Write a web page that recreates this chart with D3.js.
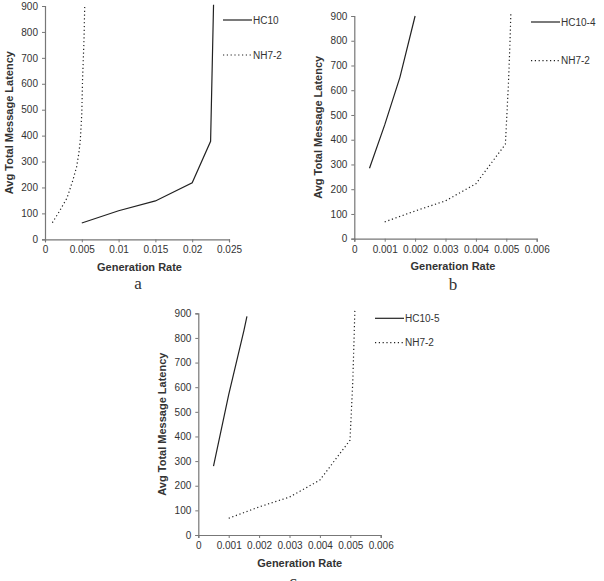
<!DOCTYPE html>
<html>
<head>
<meta charset="UTF-8" />
<style>
  body { margin: 0; background: #fff; }
  svg text { font-family: "Liberation Sans", Arial, sans-serif; fill: #333; }
</style>
</head>
<body>
<script src="https://cdn.jsdelivr.net/npm/d3@7"></script>
<div id="app"></div>
<script>
// data
const yTicks = [0, 100, 200, 300, 400, 500, 600, 700, 800, 900];
const xTicksA = [0, 0.005, 0.01, 0.015, 0.02, 0.025];
const xTicksBC = [0, 0.001, 0.002, 0.003, 0.004, 0.005, 0.006];

const hc10 = [[0.005, 63], [0.01, 110], [0.015, 148], [0.02, 218], [0.0225, 378], [0.0229, 905]];
const nh72A = [[0.001, 64], [0.002, 110], [0.003, 160], [0.0038, 229], [0.0043, 280], [0.0046, 332],
  [0.0048, 383], [0.005, 486], [0.0051, 615], [0.0053, 769], [0.0054, 905]];

const hc104 = [[0.0005, 285], [0.001, 460], [0.0015, 652], [0.002, 900]];
const nh72B = [[0.001, 68], [0.002, 112], [0.003, 153], [0.004, 222], [0.00497, 382],
  [0.00507, 625], [0.00512, 788], [0.00515, 912]];

const hc105 = [[0.0005, 280], [0.001, 570], [0.0015, 830], [0.0016, 888]];
const nh72C = [[0.001, 68], [0.002, 114], [0.003, 154], [0.004, 223], [0.00499, 385],
  [0.00508, 618], [0.00512, 780], [0.00515, 912]];

const fmt = d => d === 0 ? "0" : String(+d.toFixed(4));

const svg = d3.select("#app").append("svg")
  .attr("width", 604)
  .attr("height", 581);

const panels = [
  { x0: 45, x1: 229, y0: 239.3, y1: 6, xMax: 0.025, xTicks: xTicksA,
    solid: hc10, dotted: nh72A, solidName: "HC10", letter: "a",
    titleX: 139.5, letterX: 138, letterY: 289, legX: 223, legY: [20, 55] },
  { x0: 354.3, x1: 536.7, y0: 238.7, y1: 16, xMax: 0.006, xTicks: xTicksBC,
    solid: hc104, dotted: nh72B, solidName: "HC10-4", letter: "b",
    titleX: 453, letterX: 453, letterY: 290, legX: 531, legY: [22, 60.7] },
  { x0: 198.3, x1: 380.7, y0: 535, y1: 313.3, xMax: 0.006, xTicks: xTicksBC,
    solid: hc105, dotted: nh72C, solidName: "HC10-5", letter: "c",
    titleX: 299.7, letterX: 293, letterY: 586.5, legX: 375, legY: [318.3, 342.7] }
];

panels.forEach(p => {
  const x = d3.scaleLinear().domain([0, p.xMax]).range([p.x0, p.x1]);
  const y = d3.scaleLinear().domain([0, 900]).range([p.y0, p.y1]);
  const g = svg.append("g");

  const xAxis = g.append("g")
    .attr("transform", "translate(0," + p.y0 + ")")
    .call(d3.axisBottom(x).tickValues(p.xTicks).tickFormat(fmt).tickSize(3).tickPadding(4));
  const yAxis = g.append("g")
    .attr("transform", "translate(" + p.x0 + ",0)")
    .call(d3.axisLeft(y).tickValues(yTicks).tickSize(3).tickPadding(4));

  [xAxis, yAxis].forEach(a => {
    a.select(".domain").attr("stroke", "#777").attr("stroke-width", 1.2);
    a.selectAll(".tick line").attr("stroke", "#777");
    a.selectAll(".tick text")
      .style("font-family", "Liberation Sans, Arial, sans-serif")
      .style("font-size", "10px")
      .attr("fill", "#333");
  });

  // axis titles
  g.append("text")
    .attr("x", p.titleX)
    .attr("y", p.y0 + 31.5)
    .attr("text-anchor", "middle")
    .style("font-size", "11px")
    .style("font-weight", "bold")
    .text("Generation Rate");

  g.append("text")
    .attr("transform", "translate(" + (p.x0 - 32) + "," + ((p.y0 + p.y1) / 2) + ") rotate(-90)")
    .attr("text-anchor", "middle")
    .style("font-size", "11px")
    .style("font-weight", "bold")
    .text("Avg Total Message Latency");

  g.append("text")
    .attr("x", p.letterX)
    .attr("y", p.letterY)
    .attr("text-anchor", "middle")
    .style("font-family", "Liberation Serif, Times New Roman, serif")
    .style("font-size", "17px")
    .attr("fill", "#111")
    .text(p.letter);

  const line = d3.line().x(d => x(d[0])).y(d => y(d[1]));

  g.append("path")
    .attr("d", line(p.solid))
    .attr("fill", "none")
    .attr("stroke", "#222")
    .attr("stroke-width", 1.2);

  g.append("path")
    .attr("d", line(p.dotted))
    .attr("fill", "none")
    .attr("stroke", "#222")
    .attr("stroke-width", 1.2)
    .attr("stroke-dasharray", "1.2,2.6");

  // legend
  const legend = [
    { name: p.solidName, dash: null },
    { name: "NH7-2", dash: "1.2,2.6" }
  ];
  legend.forEach((l, i) => {
    g.append("line")
      .attr("x1", p.legX).attr("x2", p.legX + 29)
      .attr("y1", p.legY[i]).attr("y2", p.legY[i])
      .attr("stroke", "#222")
      .attr("stroke-width", 1.2)
      .attr("stroke-dasharray", l.dash);
    g.append("text")
      .attr("x", p.legX + 30)
      .attr("y", p.legY[i])
      .attr("dy", "0.35em")
      .style("font-size", "10px")
      .text(l.name);
  });
});
</script>
</body>
</html>
